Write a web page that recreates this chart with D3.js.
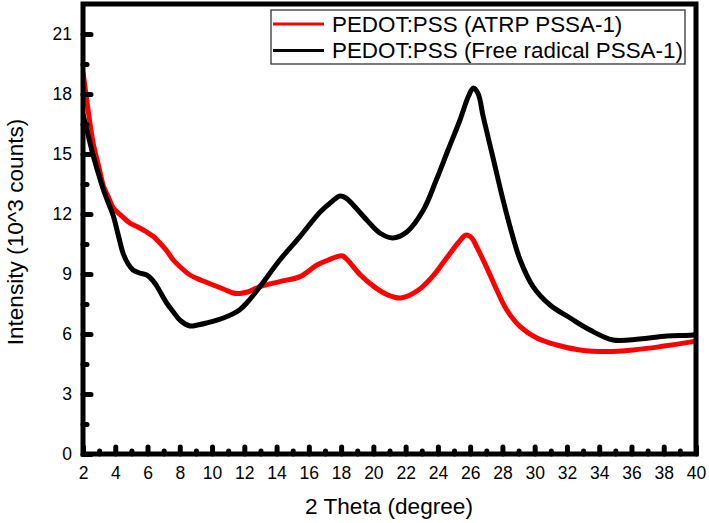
<!DOCTYPE html>
<html>
<head>
<meta charset="utf-8">
<script src="https://cdn.jsdelivr.net/npm/d3@7"></script>
<style>
  html, body { margin: 0; padding: 0; background: #fff; }
  svg { display: block; font-family: Arial, "Liberation Sans", sans-serif; }
</style>
</head>
<body>
<svg id="chart" width="709" height="523"></svg>
<script>
// ---- data ----
const redTheta = [2.0, 2.3, 2.64, 3.0, 3.27, 3.6, 3.88, 4.4, 4.9, 5.4, 5.95, 6.4, 6.77, 7.2, 7.6, 8.1, 8.63, 9.3, 10.07, 10.7, 11.3, 11.73, 12.2, 12.97, 14.2, 15.45, 16.5, 17.2, 17.75, 18.1, 18.4, 19.2, 20.04, 20.9, 21.7, 22.8, 23.8, 24.13, 24.75, 25.3, 25.75, 26.1, 26.4, 27.0, 27.65, 28.27, 29.1, 30.13, 31.37, 32.8, 34.47, 36.1, 37.8, 39.8, 40.0];
const redIntensity = [19.1, 17.3, 15.5, 14.3, 13.4, 12.8, 12.3, 11.9, 11.55, 11.35, 11.1, 10.85, 10.55, 10.15, 9.7, 9.3, 8.95, 8.7, 8.45, 8.25, 8.05, 8.03, 8.1, 8.37, 8.62, 8.87, 9.45, 9.7, 9.87, 9.9, 9.7, 8.95, 8.37, 7.95, 7.8, 8.2, 9.0, 9.35, 10.03, 10.6, 10.95, 10.8, 10.37, 9.37, 8.2, 7.2, 6.37, 5.8, 5.45, 5.2, 5.12, 5.2, 5.37, 5.62, 5.65];

const blackTheta = [2.0, 2.3, 2.64, 3.0, 3.27, 3.6, 3.88, 4.2, 4.5, 4.8, 5.1, 5.5, 5.95, 6.3, 6.57, 7.19, 7.6, 8.0, 8.63, 9.1, 9.66, 10.7, 11.7, 12.2, 12.97, 14.2, 15.45, 16.7, 17.4, 17.93, 18.3, 18.75, 19.59, 20.4, 21.2, 22.07, 23.1, 23.9, 24.63, 25.37, 25.9, 26.2, 26.5, 26.8, 27.4, 28.04, 28.47, 29.1, 29.9, 30.95, 32.2, 33.43, 34.86, 36.5, 38.2, 39.8, 40.0];
const blackIntensity = [17.0, 16.0, 14.9, 13.9, 13.2, 12.5, 11.9, 10.9, 10.0, 9.5, 9.2, 9.05, 8.95, 8.7, 8.4, 7.55, 7.1, 6.7, 6.4, 6.45, 6.55, 6.8, 7.2, 7.6, 8.37, 9.7, 10.87, 12.1, 12.6, 12.9, 12.8, 12.45, 11.7, 11.05, 10.8, 11.1, 12.2, 13.7, 15.2, 16.7, 17.9, 18.3, 18.0, 16.9, 14.87, 12.7, 11.37, 9.7, 8.37, 7.45, 6.8, 6.2, 5.7, 5.75, 5.9, 5.95, 6.0];

const seriesNames = ["PEDOT:PSS (ATRP PSSA-1)", "PEDOT:PSS (Free radical PSSA-1)"];
const seriesColors = ["#ff0000", "#000000"];

const xTicks = [2, 4, 6, 8, 10, 12, 14, 16, 18, 20, 22, 24, 26, 28, 30, 32, 34, 36, 38, 40];
const xMinorTicks = [3, 5, 7, 9, 11, 13, 15, 17, 19, 21, 23, 25, 27, 29, 31, 33, 35, 37, 39];
const yTicks = [0, 3, 6, 9, 12, 15, 18, 21];
const yMinorTicks = [1.5, 4.5, 7.5, 10.5, 13.5, 16.5, 19.5];

const xTitle = "2 Theta (degree)";
const yTitle = "Intensity (10^3 counts)";

// ---- layout ----
const svg = d3.select("#chart");
const L = 83, R = 696, T = 4, B = 454;

const x = d3.scaleLinear().domain([2, 40]).range([L, R]);
const y = d3.scaleLinear().domain([0, 22.5]).range([B, T]);

const series = [
  { name: seriesNames[0], color: seriesColors[0], xs: redTheta, ys: redIntensity },
  { name: seriesNames[1], color: seriesColors[1], xs: blackTheta, ys: blackIntensity }
];

svg.append("clipPath").attr("id", "clip")
  .append("rect").attr("x", L).attr("y", T).attr("width", R - L).attr("height", B - T);

const line = d3.line()
  .x(d => x(d[0]))
  .y(d => y(d[1]))
  .curve(d3.curveCatmullRom.alpha(0.5));

const gLines = svg.append("g").attr("clip-path", "url(#clip)");
series.forEach(s => {
  const pts = s.xs.map((v, i) => [v, s.ys[i]]);
  gLines.append("path")
    .datum(pts)
    .attr("d", line)
    .attr("fill", "none")
    .attr("stroke", s.color)
    .attr("stroke-width", 5)
    .attr("stroke-linejoin", "round");
});

function styleAxis(g) {
  g.select(".domain").remove();
  g.selectAll(".tick line")
    .attr("stroke", "#000")
    .attr("stroke-width", 5)
    .attr("stroke-linecap", "round");
  g.selectAll(".tick text")
    .attr("fill", "#000")
    .style("font-size", "17.5px")
    .style("font-family", "Arial, 'Liberation Sans', sans-serif");
}

svg.append("g")
  .attr("transform", `translate(0,${B})`)
  .call(d3.axisBottom(x).tickValues(xMinorTicks).tickSizeInner(-3).tickSizeOuter(0).tickFormat(""))
  .call(styleAxis);
svg.append("g")
  .attr("transform", `translate(0,${B})`)
  .call(d3.axisBottom(x).tickValues(xTicks).tickSizeInner(-7).tickSizeOuter(0).tickPadding(13).tickFormat(d3.format("d")))
  .call(styleAxis);

svg.append("g")
  .attr("transform", `translate(${L},0)`)
  .call(d3.axisLeft(y).tickValues(yMinorTicks).tickSizeInner(-4).tickSizeOuter(0).tickFormat(""))
  .call(styleAxis);
svg.append("g")
  .attr("transform", `translate(${L},0)`)
  .call(d3.axisLeft(y).tickValues(yTicks).tickSizeInner(-8).tickSizeOuter(0).tickPadding(11).tickFormat(d3.format("d")))
  .call(styleAxis);

svg.append("rect")
  .attr("x", L).attr("y", T)
  .attr("width", R - L).attr("height", B - T)
  .attr("fill", "none")
  .attr("stroke", "#000")
  .attr("stroke-width", 5);

svg.append("text")
  .attr("x", 389).attr("y", 514)
  .attr("text-anchor", "middle")
  .style("font-size", "22.6px")
  .text(xTitle);

svg.append("text")
  .attr("transform", `translate(23,232) rotate(-90)`)
  .attr("text-anchor", "middle")
  .style("font-size", "22.6px")
  .text(yTitle);

const lg = svg.append("g");
lg.append("rect")
  .attr("x", 271).attr("y", 10)
  .attr("width", 414).attr("height", 54)
  .attr("fill", "#fff")
  .attr("stroke", "#333")
  .attr("stroke-width", 1.3);

const rowY = [24, 50.5];
series.forEach((s, i) => {
  lg.append("line")
    .attr("x1", 273).attr("x2", 324)
    .attr("y1", rowY[i]).attr("y2", rowY[i])
    .attr("stroke", s.color)
    .attr("stroke-width", 3);
  lg.append("text")
    .attr("x", 332).attr("y", rowY[i] + 7.5)
    .style("font-size", "22.4px")
    .text(s.name);
});
</script>
</body>
</html>
